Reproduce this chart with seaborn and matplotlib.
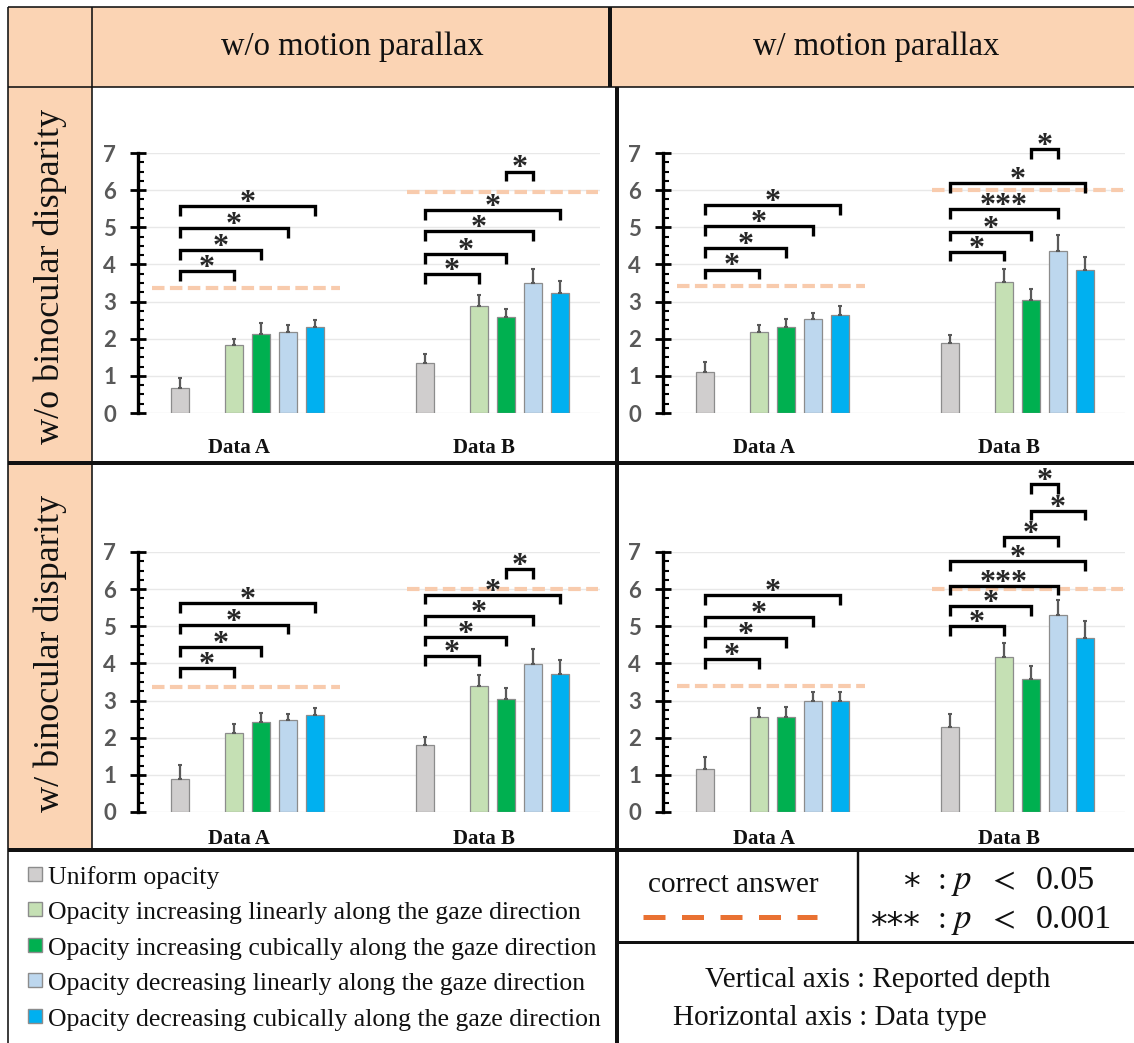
import numpy as np
import pandas as pd
import matplotlib
matplotlib.use("Agg")
import matplotlib.pyplot as plt
from matplotlib.patches import Rectangle
from matplotlib.ticker import MultipleLocator
import seaborn as sns

# ---------------- data ----------------
categories = ["Data A", "Data B"]
conditions = ["Uniform opacity",
              "Opacity increasing linearly along the gaze direction",
              "Opacity increasing cubically along the gaze direction",
              "Opacity decreasing linearly along the gaze direction",
              "Opacity decreasing cubically along the gaze direction"]
keys = ["U", "IL", "IC", "DL", "DC"]
colors = ["#D0CECE", "#C5E0B4", "#00B050", "#BDD7EE", "#00B0F0"]

col_titles = ["w/o motion parallax", "w/ motion parallax"]
row_titles = ["w/o binocular disparity", "w/ binocular disparity"]

# bar means (order U, IL, IC, DL, DC) per panel and category
tl_a = [0.67, 1.84, 2.13, 2.18, 2.32]
tl_b = [1.35, 2.89, 2.58, 3.51, 3.22]
tr_a = [1.10, 2.19, 2.31, 2.53, 2.65]
tr_b = [1.88, 3.52, 3.04, 4.37, 3.84]
bl_a = [0.90, 2.14, 2.41, 2.48, 2.62]
bl_b = [1.81, 3.38, 3.05, 3.99, 3.72]
br_a = [1.16, 2.55, 2.55, 2.99, 2.99]
br_b = [2.30, 4.16, 3.59, 5.30, 4.68]

# upper error bars
tl_a_err = [0.27, 0.16, 0.30, 0.20, 0.19]
tl_b_err = [0.23, 0.28, 0.22, 0.38, 0.33]
tr_a_err = [0.26, 0.18, 0.22, 0.17, 0.24]
tr_b_err = [0.21, 0.35, 0.29, 0.41, 0.35]
bl_a_err = [0.36, 0.22, 0.26, 0.17, 0.18]
bl_b_err = [0.21, 0.30, 0.30, 0.40, 0.37]
br_a_err = [0.31, 0.26, 0.28, 0.25, 0.25]
br_b_err = [0.33, 0.39, 0.34, 0.40, 0.46]

# correct answers (A, B)
tl_answer = [3.36, 5.96]
tr_answer = [3.41, 6.00]
bl_answer = [3.37, 6.00]
br_answer = [3.38, 6.00]

# significance brackets: (category, from, to, height, label)
tl_sig = [("Data A", "U", "IL", 3.82, "*"), ("Data A", "U", "IC", 4.39, "*"),
          ("Data A", "U", "DL", 4.98, "*"), ("Data A", "U", "DC", 5.56, "*"),
          ("Data B", "U", "IL", 3.74, "*"), ("Data B", "U", "IC", 4.28, "*"),
          ("Data B", "U", "DL", 4.89, "*"), ("Data B", "U", "DC", 5.46, "*"),
          ("Data B", "IC", "DL", 6.50, "*")]
tr_sig = [("Data A", "U", "IL", 3.86, "*"), ("Data A", "U", "IC", 4.44, "*"),
          ("Data A", "U", "DL", 5.03, "*"), ("Data A", "U", "DC", 5.60, "*"),
          ("Data B", "U", "IL", 4.34, "*"), ("Data B", "U", "IC", 4.88, "*"),
          ("Data B", "U", "DL", 5.49, "***"), ("Data B", "U", "DC", 6.18, "*"),
          ("Data B", "IC", "DL", 7.11, "*")]
bl_sig = [("Data A", "U", "IL", 3.88, "*"), ("Data A", "U", "IC", 4.43, "*"),
          ("Data A", "U", "DL", 5.04, "*"), ("Data A", "U", "DC", 5.63, "*"),
          ("Data B", "U", "IL", 4.20, "*"), ("Data B", "U", "IC", 4.72, "*"),
          ("Data B", "U", "DL", 5.27, "*"), ("Data B", "U", "DC", 5.85, "*"),
          ("Data B", "IC", "DL", 6.54, "*")]
br_sig = [("Data A", "U", "IL", 4.11, "*"), ("Data A", "U", "IC", 4.68, "*"),
          ("Data A", "U", "DL", 5.25, "*"), ("Data A", "U", "DC", 5.84, "*"),
          ("Data B", "U", "IL", 5.00, "*"), ("Data B", "U", "IC", 5.54, "*"),
          ("Data B", "U", "DL", 6.09, "***"), ("Data B", "U", "DC", 6.76, "*"),
          ("Data B", "IL", "DL", 7.40, "*"), ("Data B", "IC", "DC", 8.11, "*"),
          ("Data B", "IC", "DL", 8.83, "*")]

yticks = [0, 1, 2, 3, 4, 5, 6, 7]

# ---------------- style ----------------
sns.set_theme(style="white")
plt.rcParams["font.family"] = ["Liberation Serif", "DejaVu Sans"]
plt.rcParams["mathtext.fontset"] = "stix"

W, H = 1134, 1043
fig = plt.figure(figsize=(W / 100, H / 100), dpi=100)
fig.patch.set_facecolor("white")

bg = fig.add_axes([0, 0, 1, 1], zorder=0)
bg.set_xlim(0, W)
bg.set_ylim(H, 0)
bg.axis("off")

ORANGE = "#FBD4B4"
PX = 0.72  # points per pixel
INK = "#111111"

# header and row-title backgrounds
bg.add_patch(Rectangle((8, 7), W - 8, 80, facecolor=ORANGE, edgecolor="none"))
bg.add_patch(Rectangle((8, 87), 84, 763, facecolor=ORANGE, edgecolor="none"))

def hline(y, x0, x1, lw):
    bg.plot([x0, x1], [y, y], color=INK, lw=lw * PX, solid_capstyle="butt")

def vline(x, y0, y1, lw):
    bg.plot([x, x], [y0, y1], color=INK, lw=lw * PX, solid_capstyle="butt")

hline(7, 8, W, 1.6)
vline(8, 7, H, 1.6)
hline(87, 8, W, 1.6)
vline(92, 7, 850, 1.6)
vline(610, 7, 87, 4)
vline(617, 87, H, 4)
hline(463, 8, W, 4)
hline(850, 8, W, 4)
vline(858, 850, 942, 2.4)
hline(942, 617, W, 3)

# header texts
bg.text(352, 47, col_titles[0], ha="center", va="center", fontsize=23.5, color=INK)
bg.text(876, 47, col_titles[1], ha="center", va="center", fontsize=23.5, color=INK)
bg.text(50, 276, row_titles[0], ha="center", va="center", rotation=90, fontsize=26, color=INK)
bg.text(50, 653, row_titles[1], ha="center", va="center", rotation=90, fontsize=26, color=INK)

# legend box
leg_y = [878, 913, 949, 984, 1020]
for y, lab, c in zip(leg_y, conditions, colors):
    bg.add_patch(Rectangle((28, y - 11), 14, 14, facecolor=c, edgecolor="#8C8C8C", lw=1))
    bg.text(48, y, lab, ha="left", va="center", fontsize=18.5, color=INK)

# correct answer box
bg.text(733, 885, "correct answer", ha="center", va="center", fontsize=21, color=INK)
bg.plot([643, 817], [917, 917], color="#E97132", lw=5 * PX, ls=(0, (4.4, 3.3)))

# p-value box
for yb, stars, num in [(889, "*", "0.05"), (928, "***", "0.001")]:
    bg.text(920, yb + 8, stars, ha="right", va="baseline", fontsize=24, color=INK,
            family="DejaVu Sans")
    bg.text(942, yb, ":", ha="center", va="baseline", fontsize=23, color=INK)
    bg.text(962, yb, r"$p$", ha="center", va="baseline", fontsize=25, color=INK)
    bg.text(1002, yb, r"$<$", ha="center", va="baseline", fontsize=24, color=INK)
    bg.text(1036, yb, num, ha="left", va="baseline", fontsize=24.5, color=INK)

# axis description
bg.text(705, 987, "Vertical axis : Reported depth", ha="left", va="baseline", fontsize=21, color=INK)
bg.text(673, 1025, "Horizontal axis : Data type", ha="left", va="baseline", fontsize=21, color=INK)

# ---------------- panels ----------------
hue_order = ["U", "_gap", "IL", "IC", "DL", "DC"]
palette = {"U": colors[0], "_gap": "white", "IL": colors[1], "IC": colors[2],
           "DL": colors[3], "DC": colors[4]}

panels = [
    ((138, 600, 153, 413), tl_a, tl_b, tl_a_err, tl_b_err, tl_answer, tl_sig, 18),
    ((663, 1125, 153, 413), tr_a, tr_b, tr_a_err, tr_b_err, tr_answer, tr_sig, 18),
    ((138, 600, 552, 812), bl_a, bl_b, bl_a_err, bl_b_err, bl_answer, bl_sig, 12),
    ((663, 1125, 552, 812), br_a, br_b, br_a_err, br_b_err, br_answer, br_sig, 12),
]

answer_span = [(-0.39, 0.38), (-0.35, 0.43)]

for (x0, x1, yt, yb_), va_, vb_, ea, eb, ans, sig, xpad in panels:
    ax = fig.add_axes([x0 / W, 1 - yb_ / H, (x1 - x0) / W, (yb_ - yt) / H], zorder=2)
    ax.patch.set_alpha(0)
    df = pd.DataFrame({
        "Data type": [categories[0]] * 5 + [categories[1]] * 5,
        "Condition": keys + keys,
        "Depth": list(va_) + list(vb_),
    })
    errs = {(categories[0], k): e for k, e in zip(keys, ea)}
    errs.update({(categories[1], k): e for k, e in zip(keys, eb)})

    sns.barplot(data=df, x="Data type", y="Depth", hue="Condition",
                order=categories, hue_order=hue_order, palette=palette,
                saturation=1, width=0.661, gap=0.333, errorbar=None,
                edgecolor="#8C8C8C", linewidth=0.9, legend=False, ax=ax, zorder=2)

    centers, heights = {}, {}
    for hue, cont in zip(hue_order, ax.containers):
        for bar, cat in zip(cont, categories):
            centers[(cat, hue)] = bar.get_x() + bar.get_width() / 2
            heights[(cat, hue)] = bar.get_height()

    xs = [centers[k] for k in errs]
    ys = [heights[k] for k in errs]
    es = [errs[k] for k in errs]
    ax.errorbar(xs, ys, yerr=[np.zeros(len(es)), es], fmt="none", ecolor="#595959",
                elinewidth=1.6, capsize=1.5, capthick=1.5, zorder=3)

    # correct answer dashed lines
    for i, v in enumerate(ans):
        lo, hi = answer_span[i]
        ax.plot([i + lo, i + hi], [v, v], color="#F8CBAD", lw=3,
                ls=(0, (3, 1.3)), zorder=1.5, clip_on=False)

    # significance brackets
    leg = 0.26
    for cat, h1, h2, y, lab in sig:
        xa, xb = centers[(cat, h1)], centers[(cat, h2)]
        ax.plot([xa, xa, xb, xb], [y - leg, y, y, y - leg], color="black", lw=2.4,
                solid_joinstyle="miter", solid_capstyle="butt", clip_on=False, zorder=4)
        ax.annotate(lab, xy=((xa + xb) / 2, y), xytext=(0, -3.5), textcoords="offset points",
                    ha="center", va="baseline", fontsize=23, fontweight="bold",
                    family="Liberation Serif", annotation_clip=False, zorder=5)

    ax.set_xlim(-0.446, 1.439)
    ax.set_ylim(0, 7)
    ax.set_xlabel("")
    ax.set_ylabel("")
    for s in ["top", "right", "bottom"]:
        ax.spines[s].set_visible(False)
    ax.spines["left"].set_color("black")
    ax.spines["left"].set_linewidth(2.4)
    ax.set_axisbelow(True)
    ax.yaxis.grid(True, color="#E8E8E8", lw=1)
    ax.xaxis.grid(False)

    ax.set_yticks(yticks)
    ax.set_yticklabels([str(t) for t in yticks], fontsize=16, fontweight="bold",
                       family="Lato", color="#595959")
    ax.yaxis.set_minor_locator(MultipleLocator(0.25))
    ax.tick_params(axis="y", which="major", direction="inout", length=11.5, width=2,
                   color="black", pad=10, left=True)
    ax.tick_params(axis="y", which="minor", direction="in", length=4.5, width=1.5,
                   color="black", left=True)

    ax.set_xticks([i - 0.035 for i in range(len(categories))])
    ax.set_xticklabels(categories, fontsize=15, fontweight="bold",
                       family="Liberation Serif", color=INK)
    ax.tick_params(axis="x", length=0, pad=xpad)

fig.savefig("out.png", dpi=100, facecolor="white")
